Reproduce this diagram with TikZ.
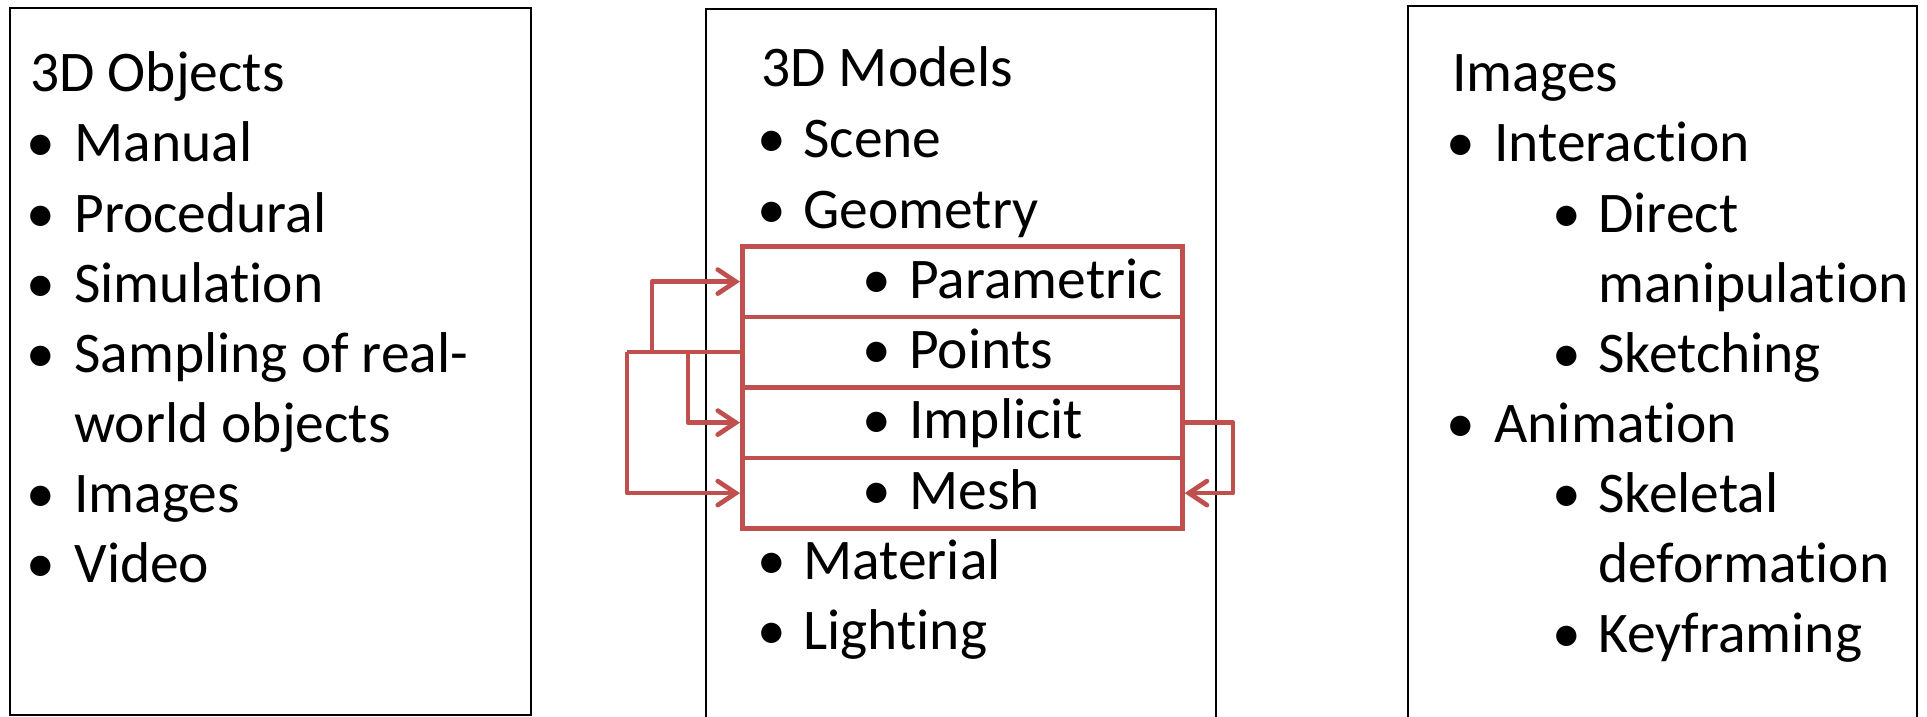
\documentclass[tikz,border=0pt]{standalone}
\usepackage{fontspec}
\setmainfont{Carlito}[Ligatures={NoCommon,NoContextual}]
\usetikzlibrary{arrows.meta}
\definecolor{accred}{HTML}{C0504D}
\newcommand\fsz{\fontsize{28.75}{34.5}\selectfont}
\begin{document}
\begin{tikzpicture}[x=0.5pt,y=-0.5pt,
  txt/.style={anchor=base west,inner sep=0pt,font=\fsz},
  blt/.style={anchor=base,inner sep=0pt,font=\fsz},
  frame/.style={draw=black,line width=1.35pt},
  row/.style={draw=accred,line width=2.35pt,minimum width=220pt,minimum height=35.25pt,inner sep=0pt,anchor=north west},
  redline/.style={draw=accred,line width=2.35pt,line join=round},
  link/.style={redline,-{Straight Barb[length=9pt,width=12pt,line cap=round]}}]
\useasboundingbox (0,0) rectangle (1927,717);
\fill[white] (0,0) rectangle (1927,717);
\clip (0,0) rectangle (1927,717);

% frames
\draw[frame] (10,8) rectangle (531,715);
\draw[frame] (706,725) -- (706,9) -- (1216,9) -- (1216,725);
\draw[frame] (1408,725) -- (1408,6) -- (1917,6) -- (1917,725);

% left column
\node[txt] (l0) at (30,92) {3D Objects};
\node[blt] (lb1) at (41,162) {•}; \node[txt] (l1) at (74,162) {Manual};
\node[blt] (lb2) at (41,232) {•}; \node[txt] (l2) at (74,232) {Procedural};
\node[blt] (lb3) at (41,302) {•}; \node[txt] (l3) at (74,302) {Simu{}lation};
\node[blt] (lb4) at (41,372) {•}; \node[txt] (l4) at (74,372) {Sampling of real-};
\node[txt] (l5) at (74,442) {world objects};
\node[blt] (lb6) at (41,512) {•}; \node[txt] (l6) at (74,512) {Images};
\node[blt] (lb7) at (41,582) {•}; \node[txt] (l7) at (74,582) {Video};

% middle column: red rows
\node[row] (par) at (740,244) {};
\node[row] (pts) at (740,314.5) {};
\node[row] (imp) at (740,385) {};
\node[row] (msh) at (740,455.5) {};

\node[txt] (m0) at (761,87) {3D Models};
\node[blt] (mb1) at (772,157) {•}; \node[txt] (m1) at (803,157) {Scene};
\node[blt] (mb2) at (772,228) {•}; \node[txt] (m2) at (803,228) {Geometry};
\node[blt] (mb3) at (877,298) {•}; \node[txt] (m3) at (909,298) {Parametric};
\node[blt] (mb4) at (877,368) {•}; \node[txt] (m4) at (909,368) {Points};
\node[blt] (mb5) at (877,438) {•}; \node[txt] (m5) at (909,438) {Implicit};
\node[blt] (mb6) at (877,509) {•}; \node[txt] (m6) at (909,509) {Mesh};
\node[blt] (mb7) at (772,579) {•}; \node[txt] (m7) at (803,579) {Material};
\node[blt] (mb8) at (772,649) {•}; \node[txt] (m8) at (803,649) {Lighting};

% right column
\node[txt] (r0) at (1452,92) {Images};
\node[blt] (rb1) at (1461,162) {•}; \node[txt] (r1) at (1494,162) {Interaction};
\node[blt] (rb2) at (1567,232) {•}; \node[txt] (r2) at (1598,232) {Direct};
\node[txt] (r3) at (1598,302) {manipulation};
\node[blt] (rb4) at (1567,372) {•}; \node[txt] (r4) at (1598,372) {Sketching};
\node[blt] (rb5) at (1461,442) {•}; \node[txt] (r5) at (1494,442) {Animation};
\node[blt] (rb6) at (1567,512) {•}; \node[txt] (r6) at (1598,512) {Skeletal};
\node[txt] (r7) at (1598,582) {deformation};
\node[blt] (rb8) at (1567,652) {•}; \node[txt] (r8) at (1598,652) {Keyframing};

% connectors
\coordinate (xo) at (627,0);
\coordinate (xm) at (652,0);
\coordinate (xi) at (688,0);
\coordinate (xr) at (1233,0);
\draw[redline] (pts.west) -- (pts.west -| xo);
\draw[link] (pts.west -| xo) |- (msh.west);
\draw[link] (pts.west -| xm) |- (par.west);
\draw[link] (pts.west -| xi) |- (imp.west);
\draw[link] (imp.east) -- (imp.east -| xr) |- (msh.east);
\end{tikzpicture}
\end{document}
